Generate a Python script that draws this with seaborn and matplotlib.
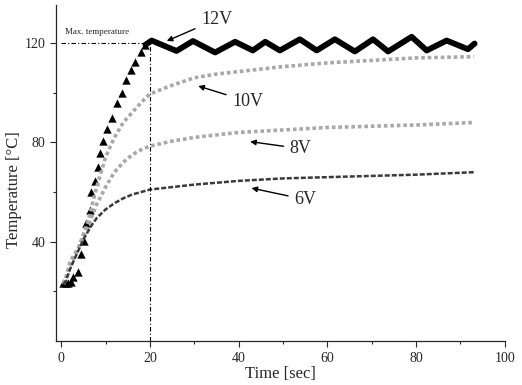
import numpy as np
import pandas as pd
import matplotlib
matplotlib.use("Agg")
import matplotlib.pyplot as plt
import seaborn as sns

# 12V: triangles during heat-up, then thick oscillating line around the limit
t_12_rise = [0.5, 1.0, 1.6, 2.2, 2.7, 3.8, 4.4, 5.2, 5.7, 6.5, 6.8, 7.7, 8.3, 8.7,
             9.5, 10.4, 11.5, 12.5, 13.6, 14.7, 15.7, 16.7, 17.9, 19.0]
T_12_rise = [23.4, 23.2, 23.4, 23.6, 26.0, 28.0, 35.0, 40.4, 47.5, 52.8, 60.2, 64.5, 70.0, 75.9,
             80.7, 85.3, 90.0, 96.0, 100.0, 105.3, 109.0, 112.4, 116.4, 119.3]
t_12_hold = [19.0, 20.4, 26.0, 29.7, 34.7, 39.2, 43.2, 46.0, 49.3, 53.8, 57.6, 61.7,
             66.2, 70.3, 73.7, 79.0, 82.4, 86.9, 91.7, 93.2]
T_12_hold = [119.3, 121.0, 116.8, 120.8, 116.2, 120.5, 117.0, 120.5, 117.0, 121.5, 117.0, 121.5,
             116.6, 121.5, 116.6, 122.5, 117.0, 121.0, 117.5, 119.8]

t_10 = [0.5, 1, 2, 4, 6, 7, 8, 9, 10, 12, 14, 16, 18, 20, 25, 30, 35, 40, 45, 50, 60, 70, 80, 93]
T_10 = [23, 25, 32, 38, 48, 55, 62, 68, 74, 82, 88, 92, 96, 99.5, 103, 106, 107.5, 108.5,
        109.5, 110.5, 112, 113, 114, 114.5]

t_8 = [0.5, 2, 4, 6, 8, 10, 12, 14, 16, 18, 20, 25, 30, 40, 50, 60, 70, 80, 93]
T_8 = [23, 30, 38, 46, 55, 62, 68, 72, 75, 77, 78.5, 80.5, 82, 84, 85, 86, 86.5, 87, 88]

t_6 = [0.5, 1, 2, 3, 4, 5, 6, 7, 8, 10, 12, 14, 16, 18, 20, 25, 30, 40, 50, 60, 70, 80, 93]
T_6 = [23, 24, 29, 33, 37, 41, 44, 47, 49.5, 53, 55.5, 57.5, 59, 60, 61, 62, 63, 64.5,
       65.5, 66, 66.5, 67, 68]

# label text, text position, arrow head position
labels = ["12V", "10V", "8V", "6V"]
label_xy = [(31.5, 129.5), (38.5, 96.5), (51.5, 77.5), (52.5, 57.0)]
arrow_xy = [(23.8, 120.8), (30.9, 102.7), (42.6, 80.3), (42.9, 61.6)]

sns.set_style("ticks")
plt.rcParams["font.family"] = ["Liberation Serif", "DejaVu Serif"]

fig = plt.figure(figsize=(5.22, 3.85), dpi=100)
ax = fig.add_axes([0.107, 0.114, 0.860, 0.873])

sns.lineplot(x=t_10, y=T_10, ax=ax, color="#a8a8a8", lw=2.6, linestyle=(0, (1, 0.8)))
sns.lineplot(x=t_8, y=T_8, ax=ax, color="#a8a8a8", lw=2.6, linestyle=(0, (1, 0.8)))
sns.lineplot(x=t_6, y=T_6, ax=ax, color="#3a3a3a", lw=1.8, linestyle=(0, (2, 0.8)))
sns.lineplot(x=t_12_hold, y=T_12_hold, ax=ax, color="black", lw=4.2)
sns.scatterplot(x=t_12_rise, y=T_12_rise, ax=ax, marker="^", color="black", s=36,
                edgecolor="black", linewidth=0)

# max temperature guides
ax.plot([0, 20], [120, 120], color="black", lw=0.8, linestyle=(0, (4, 2, 1, 2)))
ax.plot([20, 20], [0, 120], color="black", lw=0.8, linestyle=(0, (4, 2, 1, 2)))
ax.text(0.9, 124.5, "Max. temperature", fontsize=6.5, va="center", ha="left")

for lab, xy, head in zip(labels, label_xy, arrow_xy):
    ax.annotate(lab, xy=head, xytext=xy, fontsize=13, va="center", ha="left",
                arrowprops=dict(arrowstyle="-|>", color="black", lw=1.0,
                                mutation_scale=8, shrinkA=2, shrinkB=0))

ax.set_xlim(-1.2, 100)
ax.set_ylim(0, 135.3)
ax.set_xticks([0, 20, 40, 60, 80, 100])
ax.set_xticks([10, 30, 50, 70, 90], minor=True)
ax.set_yticks([40, 80, 120])
ax.set_yticks([20, 60, 100], minor=True)
ax.tick_params(axis="both", which="major", labelsize=10, length=4, width=0.8, direction="out")
ax.tick_params(axis="both", which="minor", length=2, width=0.8, direction="out")
ax.set_xlabel("Time [sec]", fontsize=12, labelpad=1)
ax.set_ylabel("Temperature [°C]", fontsize=12)
ax.yaxis.set_label_coords(-0.075, 0.45)
sns.despine(ax=ax)
for s in ["left", "bottom"]:
    ax.spines[s].set_linewidth(0.9)

fig.savefig("out.png", dpi=100)
